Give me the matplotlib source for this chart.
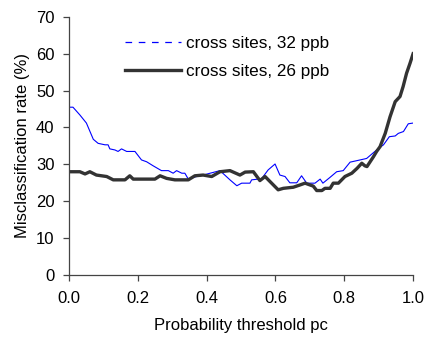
import matplotlib
matplotlib.use("Agg")
import matplotlib.pyplot as plt
from matplotlib.lines import Line2D

plt.rcParams['font.family'] = ['Liberation Sans', 'DejaVu Sans']

# Serie 32 ppb (azul)
x_32 = [0.0, 0.012, 0.032, 0.051, 0.071, 0.085, 0.105, 0.114, 0.119, 0.134,
        0.143, 0.153, 0.168, 0.192, 0.211, 0.226, 0.245, 0.269, 0.289, 0.303,
        0.313, 0.328, 0.337, 0.347, 0.371, 0.390, 0.439, 0.468, 0.488, 0.502,
        0.526, 0.531, 0.550, 0.555, 0.579, 0.599, 0.613, 0.628, 0.642, 0.662,
        0.676, 0.691, 0.715, 0.730, 0.738, 0.759, 0.778, 0.797, 0.817, 0.846,
        0.865, 0.894, 0.914, 0.931, 0.948, 0.957, 0.972, 0.986, 1.0]
y_32 = [45.5, 45.5, 43.4, 41.2, 36.8, 35.7, 35.3, 35.3, 34.2, 33.9,
        33.5, 34.2, 33.5, 33.5, 31.2, 30.7, 29.6, 28.3, 28.3, 27.6,
        28.3, 27.6, 27.6, 26.0, 26.7, 27.1, 28.3, 25.8, 24.2, 24.9,
        24.9, 25.8, 26.0, 25.5, 28.5, 30.1, 27.1, 26.7, 25.0, 25.0,
        26.9, 24.9, 24.9, 26.0, 24.9, 26.5, 28.0, 28.3, 30.6, 31.2,
        31.6, 33.9, 35.3, 37.5, 37.7, 38.4, 38.9, 41.0, 41.2]

# Serie 26 ppb (gris oscuro)
x_26 = [0.0, 0.032, 0.047, 0.061, 0.080, 0.110, 0.129, 0.163, 0.177, 0.187,
        0.250, 0.265, 0.284, 0.308, 0.347, 0.366, 0.390, 0.415, 0.439, 0.468,
        0.497, 0.512, 0.536, 0.555, 0.570, 0.589, 0.608, 0.623, 0.652, 0.671,
        0.686, 0.710, 0.720, 0.735, 0.744, 0.759, 0.768, 0.783, 0.802, 0.822,
        0.837, 0.851, 0.860, 0.866, 0.885, 0.894, 0.904, 0.919, 0.933, 0.948,
        0.962, 0.971, 0.981, 0.991, 1.0]
y_26 = [28.0, 28.0, 27.4, 28.0, 27.1, 26.7, 25.8, 25.8, 26.9, 26.0,
        26.0, 26.9, 26.2, 25.8, 25.8, 26.9, 27.1, 26.7, 28.0, 28.3,
        27.1, 27.9, 28.0, 25.6, 26.7, 24.9, 23.1, 23.5, 23.8, 24.4,
        24.9, 24.1, 22.9, 22.9, 23.5, 23.5, 24.9, 24.9, 26.7, 27.6,
        28.9, 30.3, 29.6, 29.4, 32.1, 33.5, 34.8, 38.4, 42.9, 47.0,
        48.4, 51.1, 54.7, 57.4, 60.0]

labels = ['cross sites, 32 ppb', 'cross sites, 26 ppb']
x_ticks = [0.0, 0.2, 0.4, 0.6, 0.8, 1.0]
y_ticks = [0, 10, 20, 30, 40, 50, 60, 70]

fig = plt.figure(figsize=(4.25, 3.37), dpi=100)
ax = fig.add_axes([0.162, 0.184, 0.81, 0.766])

ax.plot(x_32, y_32, color='#0000ff', linewidth=0.8)
ax.plot(x_26, y_26, color='#333333', linewidth=2.4)

ax.set_xlim(0, 1.0)
ax.set_ylim(0, 70)
ax.set_xticks(x_ticks)
ax.set_xticklabels([f'{v:.1f}' for v in x_ticks])
ax.set_yticks(y_ticks)

for s in ['top', 'right']:
    ax.spines[s].set_visible(False)
for s in ['left', 'bottom']:
    ax.spines[s].set_color('#444444')
    ax.spines[s].set_linewidth(0.9)
ax.tick_params(direction='out', length=4.3, width=0.9, color='#444444',
               labelsize=12)
ax.tick_params(axis='y', pad=6)
ax.tick_params(axis='x', pad=7)

ax.set_xlabel('Probability threshold pc', fontsize=12, labelpad=9)
ax.set_ylabel('Misclassification rate (%)', fontsize=12, labelpad=4)

# Leyenda: la serie azul aparece discontinua
handles = [Line2D([], [], color='#0000ff', linewidth=0.9, linestyle=(0, (5.3, 5.3))),
           Line2D([], [], color='#333333', linewidth=2.4)]
ax.legend(handles, labels, loc='upper left', bbox_to_anchor=(0.163, 0.926),
          frameon=False, fontsize=12.3, handlelength=3.3, handletextpad=0.3,
          labelspacing=0.78, borderaxespad=0, borderpad=0)

fig.savefig('out.png', dpi=100)
